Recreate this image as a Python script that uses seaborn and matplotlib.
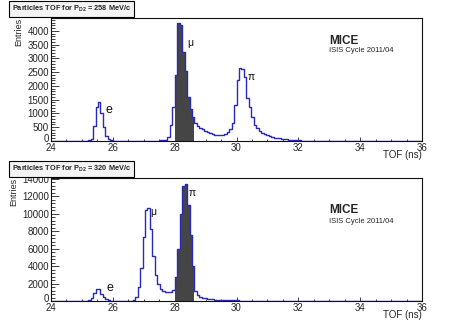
import numpy as np
import pandas as pd
import matplotlib.pyplot as plt
import seaborn as sns
from matplotlib.transforms import ScaledTranslation

# TOF histograms, 0.08 ns bins between 24 and 36 ns
tof_min, tof_max, bin_w = 24.0, 36.0, 0.08
first_bin = 25.04          # left edge of the first listed bin (ns)
cut_lo, cut_hi = 28.0, 28.64  # shaded selection window (ns)

# P = 258 MeV/c (one row per stretch of bins, first edge in the comment)
entries_258 = (
    [0, 5, 20, 80, 550, 1250, 1420, 1000, 500, 180, 80, 30, 10, 5]        # 25.04
    + [2, 0, 0, 0, 0, 0, 0, 0, 0, 0, 0, 0, 0, 0, 0, 5, 10]               # 26.16
    + [20, 30, 50, 150, 580, 1250]                                        # 27.52
    + [2400, 4280, 4220, 3250, 2550, 1600, 1180, 880]                     # 28.00
    + [640, 530, 460, 420, 380, 330, 280, 250, 230, 220, 210, 220]        # 28.64
    + [260, 330, 420, 640, 1300, 2200, 2640, 2620, 2340, 1550, 1250, 880] # 29.60
    + [580, 470, 380, 300, 250, 200, 170, 150, 125, 110, 95, 80]          # 30.56
    + [65, 55, 45, 38, 30, 25, 20, 15, 12, 10, 8, 6, 5, 4, 3, 2, 2]       # 31.52
)

# P = 320 MeV/c
entries_320 = (
    [10, 30, 100, 350, 900, 1400, 1380, 850, 450, 180, 60, 20, 10, 5]     # 25.04
    + [5, 4, 3, 5, 15, 40, 150]                                           # 26.16
    + [500, 1600, 3800, 7300, 10400, 10600, 8200, 5100, 3000, 2000, 1400] # 26.72
    + [1100, 1000, 980, 1050, 1300]                                       # 27.60
    + [2800, 6000, 10000, 13100, 13400, 11000, 7600, 4000]                # 28.00
    + [1100, 700, 500, 380, 300, 250, 210, 190, 170, 150, 140, 130]       # 28.64
    + [120, 110, 110, 100, 90, 60, 40, 25, 15, 10, 6, 4, 2]               # 29.60
)

panels = [
    {'p': 258, 'entries': entries_258, 'ymax': 4470, 'major': 500,
     'labels': [('e', 25.88, 1130, 9), ('μ', 28.50, 3575, 7.5), ('π', 30.49, 2316, 7.5)],
     'mice_y': (0.79, 0.72)},
    {'p': 320, 'entries': entries_320, 'ymax': 14060, 'major': 2000,
     'labels': [('e', 25.91, 1450, 9), ('μ', 27.31, 10200, 7.5), ('π', 28.58, 12300, 7.5)],
     'mice_y': (0.715, 0.635)},
]

sns.set_theme(style='ticks')
plt.rcParams['font.family'] = ['Liberation Sans', 'DejaVu Sans']
plt.rcParams['mathtext.fontset'] = 'custom'
plt.rcParams['mathtext.rm'] = 'Liberation Sans'
plt.rcParams['mathtext.bf'] = 'Liberation Sans:bold'
plt.rcParams['mathtext.it'] = 'Liberation Sans:italic'

W, H = 473, 320
fig = plt.figure(figsize=(W / 100, H / 100), dpi=100)
line_col = '#2a2ab8'
fill_col = '#454545'

for i, pan in enumerate(panels):
    top_px = 18 + i * 160
    ax = fig.add_axes([51 / W, 1 - (top_px + 123) / H, 371 / W, 123 / H])

    counts = pan['entries']
    centers = first_bin + bin_w * (np.arange(len(counts)) + 0.5)
    df = pd.DataFrame({'tof': centers, 'entries': counts})
    sel = df[(df['tof'] > cut_lo) & (df['tof'] < cut_hi)]

    sns.histplot(data=sel, x='tof', weights='entries', binwidth=bin_w,
                 binrange=(cut_lo, cut_hi), element='step',
                 fill=True, color=fill_col, alpha=1, linewidth=0, ax=ax)
    sns.histplot(data=df, x='tof', weights='entries', binwidth=bin_w,
                 binrange=(tof_min, tof_max), element='step',
                 fill=False, color=line_col, linewidth=1.0, ax=ax)

    ax.set_xlim(tof_min, tof_max)
    ax.set_ylim(0, pan['ymax'])
    ax.set_xticks(np.arange(24, 37, 2))
    ax.set_xticks(np.arange(24, 36.01, 0.5), minor=True)
    ax.set_yticks(np.arange(0, pan['ymax'], pan['major']))
    ax.set_yticks(np.arange(0, pan['ymax'], pan['major'] / 5), minor=True)
    ax.tick_params(axis='both', which='both', direction='in', labelsize=7,
                   width=0.6, color='#222222', pad=1.5)
    ax.tick_params(axis='y', which='major', length=5.5)
    ax.tick_params(axis='y', which='minor', length=3)
    ax.tick_params(axis='x', which='major', length=3)
    ax.tick_params(axis='x', which='minor', length=1.5)
    for s in ax.spines.values():
        s.set_visible(True)
        s.set_linewidth(0.8)
        s.set_color('#111111')

    # ROOT lifts the "0" of the y axis a little
    zero_lbl = ax.get_yticklabels()[0]
    zero_lbl.set_transform(zero_lbl.get_transform()
                           + ScaledTranslation(0, 2.5 / 72, fig.dpi_scale_trans))

    ax.set_xlabel('TOF (ns)', fontsize=7, ha='right', va='top')
    ax.xaxis.set_label_coords(1.0, -8.5 / 123)
    ax.set_ylabel('Entries', fontsize=6.5, loc='top', labelpad=3)

    for txt, x, y, fs in pan['labels']:
        ax.text(x, y, txt, fontsize=fs, ha='center', va='center', color='#111111')

    ax.text(0.749, pan['mice_y'][0], 'MICE', transform=ax.transAxes,
            fontsize=8.5, fontweight='bold', ha='left', va='baseline')
    ax.text(0.749, pan['mice_y'][1], 'ISIS Cycle 2011/04', transform=ax.transAxes,
            fontsize=5.5, ha='left', va='baseline')

    fig.text(12 / W, 1 - (9 + i * 160) / H,
             r'Particles TOF for $\mathbf{P_{D2}}$ = %d MeV/c' % pan['p'],
             fontsize=5.3, fontweight='bold', ha='left', va='center',
             bbox=dict(boxstyle='square,pad=0.35', fc='#f4f4f4', ec='black', lw=0.8))

fig.savefig('out.png', dpi=100)
